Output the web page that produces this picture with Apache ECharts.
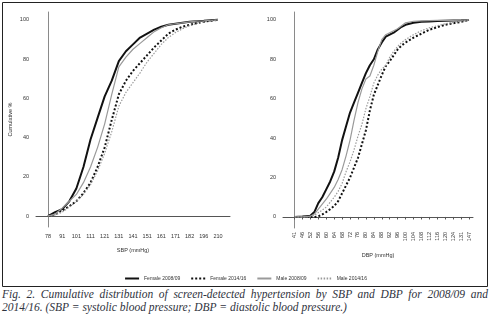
<!DOCTYPE html>
<html>
<head>
<meta charset="utf-8">
<script src="https://cdn.jsdelivr.net/npm/echarts@6/dist/echarts.min.js"></script>
<style>
  body { margin: 0; background: #fff; }
  #chart { width: 491px; height: 288px; }
  .cap { font-family: "Liberation Serif", serif; font-style: italic; font-size: 11.5px;
         color: #2f3340; width: 486px; margin-left: 2px; line-height: 13px; white-space: nowrap; }
  .cap.first { text-align: justify; text-align-last: justify; }
</style>
</head>
<body>
<div id="chart"></div>
<div class="cap first">Fig. 2. Cumulative distribution of screen-detected hypertension by SBP and DBP for 2008/09 and</div>
<div class="cap">2014/16. (SBP = systolic blood pressure; DBP = diastolic blood pressure.)</div>
<script>
// tick labels (equally spaced on the original charts)
var sbpTicks = ["78", "91", "101", "111", "121", "131", "141", "151", "161", "171", "182", "196", "210"];
var dbpTicks = ["41", "46", "52", "56", "60", "64", "68", "72", "76", "80", "84", "88", "92", "96",
                "100", "104", "108", "112", "116", "120", "124", "131", "147"];
var yTicks = [0, 20, 40, 60, 80, 100];
var seriesNames = ["Female 2008/09", "Female 2014/16", "Male 2008/09", "Male 2014/16"];

// SBP: x position in tick-label steps, cumulative %
var sbpPos = [0, 0.5, 1, 1.5, 2, 2.5, 3, 3.5, 4, 4.5, 5, 5.5, 6, 6.5, 7, 7.5, 8, 8.5, 9, 9.5, 10, 10.5, 11, 11.5, 12];
var sbpFemale0809 = [0, 2, 3.5, 7.5, 14, 25, 39, 50, 61, 69, 79, 84, 87.5, 91, 93, 95, 96.5, 97.5, 98, 98.5, 99, 99.3, 99.5, 99.8, 100];
var sbpFemale1416 = [0, 1, 2.8, 5, 7.5, 11.7, 17, 25, 35, 49, 62, 69, 74, 78, 82, 86, 89.5, 93, 95, 96.5, 97.5, 98.3, 99, 99.6, 100];
var sbpMale0809 = [0, 1, 4, 7.5, 11, 17, 25, 35, 47, 62, 76, 81, 85, 88, 91, 94, 96, 97.5, 98, 98.5, 99, 99.3, 99.5, 99.8, 100];
var sbpMale1416 = [0, 0.5, 2, 4.5, 7.5, 11, 16, 23, 32, 43, 56, 63, 68, 73, 78.6, 83, 87.5, 91, 93.5, 95.5, 97, 98.2, 99, 99.5, 100];

// DBP
var dbpPos = [0, 1, 1.5, 2, 2.5, 3, 3.5, 4, 4.5, 5, 5.5, 6, 6.5, 7, 7.5, 8, 8.5, 9, 9.5, 10, 10.5, 11, 11.5,
              12, 12.5, 13, 13.5, 14, 15, 16, 17, 18, 19, 20, 21, 22];
var dbpFemale0809 = [0, 0.2, 0.4, 0.6, 2.5, 7, 10, 14, 18, 23, 30, 39, 46, 53, 58, 63, 68, 73, 77, 80, 85, 88.5, 91.5,
                     92.5, 93.5, 95, 96.5, 97.5, 98.5, 99, 99.2, 99.4, 99.6, 99.7, 99.8, 100];
var dbpFemale1416 = [0, 0, 0, 0, 0, 0.3, 1.3, 2.5, 4, 5.6, 8, 12, 16, 20, 25, 30, 37, 44, 54, 62, 67, 72, 76.5,
                     79, 82, 85, 87, 88.5, 91, 93, 95, 96.3, 97.5, 98.3, 99, 100];
var dbpMale0809 = [0, 0, 0.2, 0.4, 1.5, 4, 6.5, 9, 12, 15, 19, 24, 31, 39, 49, 58, 65, 70, 71.5, 77, 84, 90, 92.5,
                   93.5, 94.5, 95.5, 97, 98.5, 99.3, 99.5, 99.6, 99.7, 99.8, 99.8, 99.9, 100];
var dbpMale1416 = [0, 0, 0, 0.2, 0.8, 2.2, 3.5, 5, 7.5, 10, 13, 17, 23, 28, 34, 41, 47, 55, 61, 68, 72, 75, 77,
                   81, 84, 86.5, 88.5, 90, 92.5, 94.5, 96, 97, 98, 98.7, 99.3, 100];

var styles = [
  {color: "#111", width: 2, type: "solid"},
  {color: "#111", width: 2, type: [2, 2]},
  {color: "#9a9a9a", width: 1.2, type: "solid"},
  {color: "#9a9a9a", width: 1.2, type: [1.5, 1.5]}
];

function pairs(pos, vals) {
  return pos.map(function (p, i) { return [p, vals[i]]; });
}

function makeSeries(idx, pos, sets) {
  return sets.map(function (vals, k) {
    return {
      name: seriesNames[k],
      type: "line",
      xAxisIndex: idx,
      yAxisIndex: idx,
      symbol: "none",
      lineStyle: styles[k],
      itemStyle: {color: styles[k].color},
      data: pairs(pos, vals)
    };
  });
}

var labelFont = {fontFamily: "Liberation Sans", fontSize: 5.5, color: "#333"};

function yAxis(idx, name) {
  return {
    type: "value",
    gridIndex: idx,
    min: -5.6,
    max: 104,
    name: name,
    nameLocation: "middle",
    nameGap: 23,
    nameTextStyle: {fontFamily: "Liberation Sans", fontSize: 5.5, color: "#333"},
    splitLine: {show: false},
    axisTick: {show: false},
    axisLine: {show: true, lineStyle: {color: "#8a8a8a", width: 1}},
    axisLabel: Object.assign({customValues: yTicks, margin: 7}, labelFont)
  };
}

var chart = echarts.init(document.getElementById("chart"));
var option = {
  animation: false,
  graphic: [{
    type: "rect",
    shape: {x: 2.5, y: 2.5, width: 485, height: 284},
    style: {fill: null, stroke: "#222", lineWidth: 1}
  }],
  legend: {
    data: seriesNames,
    left: "center",
    top: 271,
    itemWidth: 14,
    itemHeight: 6,
    itemGap: 10,
    itemStyle: {opacity: 0},
    textStyle: {fontFamily: "Liberation Sans", fontSize: 5, color: "#333"}
  },
  grid: [
    {left: 36, top: 12, width: 194, height: 215},
    {left: 283, top: 12, width: 190, height: 216}
  ],
  xAxis: [
    {
      type: "value",
      gridIndex: 0,
      min: -0.85,
      max: 12.85,
      name: "SBP (mmHg)",
      nameLocation: "middle",
      nameGap: 20,
      nameTextStyle: {fontFamily: "Liberation Sans", fontSize: 5.5, color: "#333"},
      splitLine: {show: false},
      axisTick: {show: false},
      axisLine: {lineStyle: {color: "#555", width: 1}},
      axisLabel: Object.assign({
        customValues: sbpTicks.map(function (t, i) { return i; }),
        margin: 6,
        formatter: function (v) { return sbpTicks[Math.round(v)]; }
      }, labelFont)
    },
    {
      type: "value",
      gridIndex: 1,
      min: -1.45,
      max: 22.5,
      name: "DBP (mmHg)",
      nameLocation: "middle",
      nameGap: 24,
      nameTextStyle: {fontFamily: "Liberation Sans", fontSize: 5.5, color: "#333"},
      splitLine: {show: false},
      axisTick: {show: true, length: 2.5, customValues: dbpTicks.map(function (t, i) { return i; }),
                 lineStyle: {color: "#555"}},
      axisLine: {lineStyle: {color: "#555", width: 1}},
      axisLabel: Object.assign({
        customValues: dbpTicks.map(function (t, i) { return i; }),
        rotate: 90,
        margin: 4,
        formatter: function (v) { return dbpTicks[Math.round(v)]; }
      }, labelFont)
    }
  ],
  yAxis: [yAxis(0, "Cumulative %"), yAxis(1, "")],
  series: makeSeries(0, sbpPos, [sbpFemale0809, sbpFemale1416, sbpMale0809, sbpMale1416])
    .concat(makeSeries(1, dbpPos, [dbpFemale0809, dbpFemale1416, dbpMale0809, dbpMale1416]))
};
chart.setOption(option, true);
</script>
</body>
</html>
